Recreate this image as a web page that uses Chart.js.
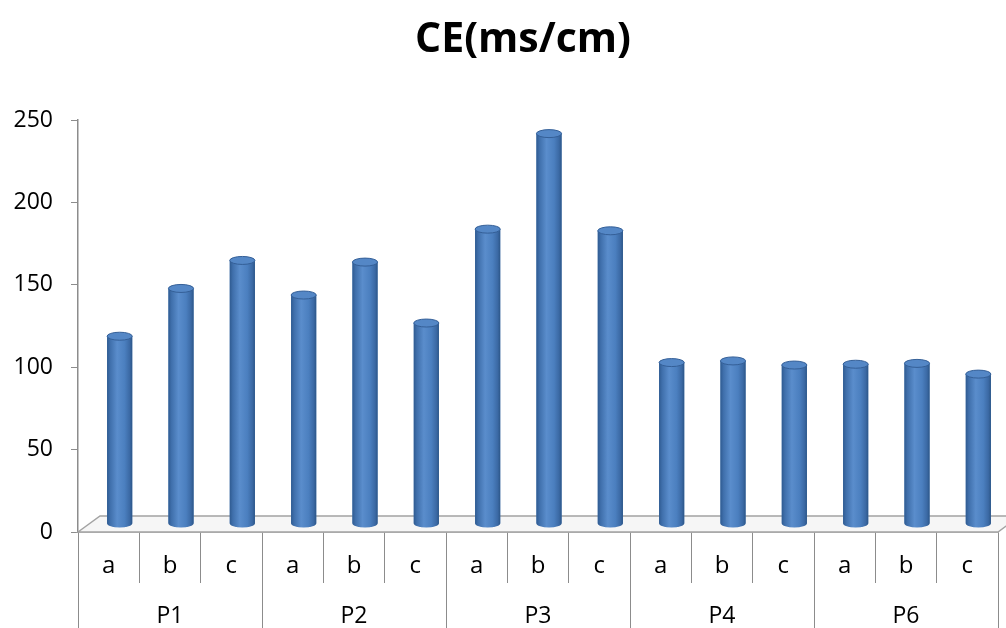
<!DOCTYPE html>
<html>
<head>
<meta charset="utf-8">
<script src="https://cdn.jsdelivr.net/npm/chart.js@4"></script>
<style>
  html, body { margin: 0; padding: 0; background: #fff; }
  #wrap { width: 1006px; height: 628px; }
</style>
</head>
<body>
<div id="wrap"><canvas id="myChart"></canvas></div>
<script>
// samples a/b/c for each station
const samples = ['a', 'b', 'c', 'a', 'b', 'c', 'a', 'b', 'c', 'a', 'b', 'c', 'a', 'b', 'c'];
const stations = ['P1', 'P2', 'P3', 'P4', 'P6'];
const ceValues = [114, 143, 160, 139, 159, 122, 179, 237, 178, 98, 99, 96.5, 97, 97.5, 91];
const yTicks = [0, 50, 100, 150, 200, 250];

const axisGrey = '#8c8c8c';
const depth = { x: 11, y: -8 }; // half of the floor depth, bars stand in the middle

// draws the 3d floor and turns the flat bars into cylinders
const cylinders = {
  id: 'cylinders',
  afterLayout(chart) {
    // title sits centred over the plot rather than the whole canvas
    chart.titleBlock.left = 48;
  },
  beforeDatasetsDraw(chart) {
    const { ctx, chartArea: a } = chart;
    ctx.save();
    ctx.beginPath();
    ctx.moveTo(a.left, a.bottom);
    ctx.lineTo(a.left + depth.x * 2, a.bottom + depth.y * 2);
    ctx.lineTo(a.right + depth.x * 2, a.bottom + depth.y * 2);
    ctx.lineTo(a.right, a.bottom);
    ctx.closePath();
    ctx.fillStyle = '#f6f6f6';
    ctx.fill();
    ctx.strokeStyle = '#a3a3a3';
    ctx.lineWidth = 1.5;
    ctx.stroke();
    ctx.restore();

    ctx.save();
    ctx.translate(depth.x, depth.y);
  },
  afterDatasetsDraw(chart) {
    const ctx = chart.ctx;
    chart.getDatasetMeta(0).data.forEach(bar => {
      const { x, y, base, width } = bar.getProps(['x', 'y', 'base', 'width'], true);
      const l = x - width / 2, r = x + width / 2, ry = 4;

      const g = ctx.createLinearGradient(l, 0, r, 0);
      g.addColorStop(0, '#2f5b91');
      g.addColorStop(0.12, '#3f6fab');
      g.addColorStop(0.4, '#5a8dcc');
      g.addColorStop(0.7, '#4b7fbf');
      g.addColorStop(0.9, '#3b69a4');
      g.addColorStop(1, '#2c5688');

      ctx.beginPath();
      ctx.moveTo(l, y);
      ctx.lineTo(l, base);
      ctx.ellipse(x, base, width / 2, ry, 0, Math.PI, 0, true);
      ctx.lineTo(r, y);
      ctx.closePath();
      ctx.fillStyle = g;
      ctx.fill();

      // top cap
      ctx.beginPath();
      ctx.ellipse(x, y, width / 2, ry, 0, 0, Math.PI * 2);
      ctx.fillStyle = '#5487c6';
      ctx.fill();
      ctx.strokeStyle = '#345f97';
      ctx.lineWidth = 1;
      ctx.stroke();
    });
    ctx.restore();
  }
};

const ctx = document.getElementById('myChart').getContext('2d');

new Chart(ctx, {
  type: 'bar',
  data: {
    labels: samples,
    datasets: [{
      label: 'CE(ms/cm)',
      data: ceValues,
      backgroundColor: '#4f81bd',
      categoryPercentage: 1,
      barPercentage: 0.41
    }]
  },
  options: {
    responsive: true,
    maintainAspectRatio: false,
    animation: false,
    layout: { padding: { right: 8 } },
    plugins: {
      legend: { display: false },
      tooltip: { enabled: false },
      title: {
        display: true,
        text: 'CE(ms/cm)',
        color: '#000',
        font: { family: 'Open Sans', size: 41, weight: 'bold', lineHeight: 1.2 },
        padding: { top: 16, bottom: 55 }
      }
    },
    scales: {
      y: {
        min: 0,
        max: 250,
        afterBuildTicks: s => { s.ticks = yTicks.map(v => ({ value: v })); },
        afterFit: s => { s.width = 78; },
        grid: { drawOnChartArea: false, color: axisGrey, tickLength: 7 },
        border: { color: axisGrey, width: 1.5 },
        ticks: { color: '#000', padding: 18, font: { family: 'Open Sans', size: 23 } }
      },
      x: {
        weight: 0,
        afterFit: s => { s.height = 51; },
        grid: { drawOnChartArea: false, offset: true, color: axisGrey, tickLength: 51 },
        border: { color: axisGrey, width: 1.5 },
        ticks: { color: '#000', padding: -31, maxRotation: 0, autoSkip: false, font: { family: 'Open Sans', size: 24 } }
      },
      x2: {
        type: 'category',
        position: 'bottom',
        weight: 1,
        labels: stations,
        offset: true,
        afterFit: s => { s.height = 45; },
        grid: { drawOnChartArea: false, offset: true, color: axisGrey, tickLength: 45 },
        border: { display: false },
        ticks: { color: '#000', padding: -25, maxRotation: 0, autoSkip: false, font: { family: 'Open Sans', size: 23 } }
      }
    }
  },
  plugins: [cylinders]
});
</script>
</body>
</html>
